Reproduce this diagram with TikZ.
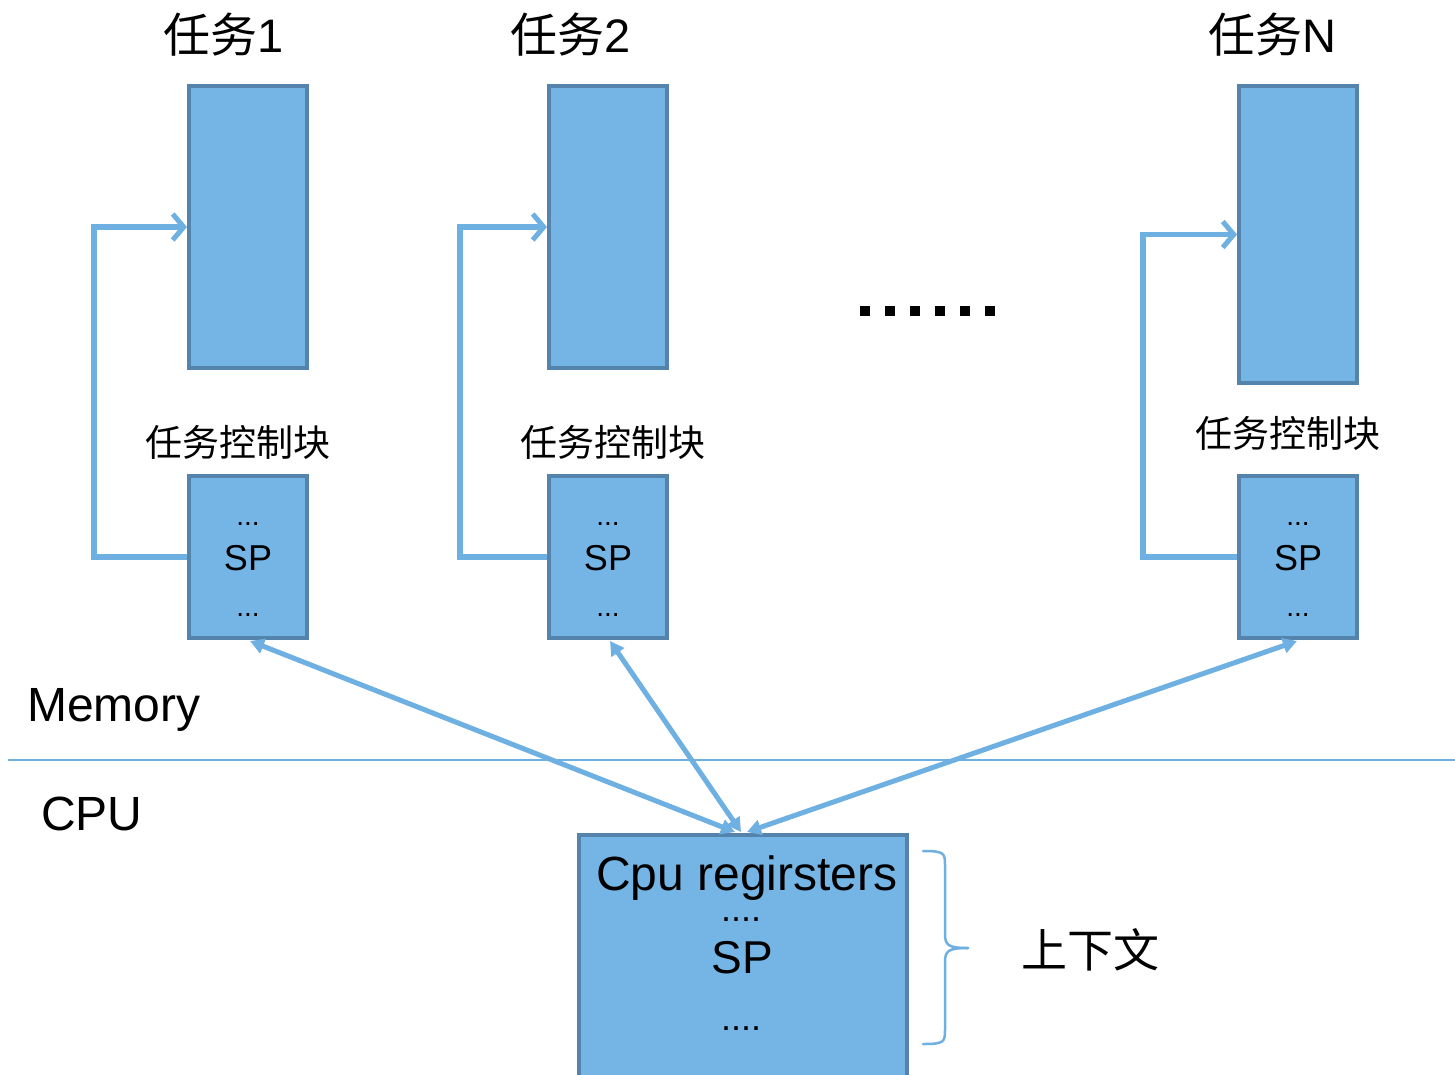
\documentclass[tikz,border=0pt]{standalone}
\usepackage{fontspec}
\setmainfont{Liberation Sans}
\newfontfamily\cjk{Noto Sans CJK SC}
\usetikzlibrary{arrows.meta,calc}

\definecolor{boxfill}{RGB}{117,181,229}
\definecolor{boxedge}{RGB}{84,132,172}
\definecolor{linkblue}{RGB}{111,176,226}

\tikzset{
  stackbox/.style={draw=boxedge, fill=boxfill, line width=4pt, minimum width=118pt, inner sep=0pt},
  tcbbox/.style={stackbox, minimum height=162pt},
  looplink/.style={draw=linkblue, line width=5.5pt, line join=miter,
    -{Straight Barb[length=11pt,width=26pt,line width=5pt]}},
  swaplink/.style={draw=linkblue, line width=5pt,
    {Triangle[length=14pt,width=15pt]}-{Triangle[length=14pt,width=15pt]}},
  title/.style={font=\cjk\fontsize{47}{47}\selectfont, inner sep=0pt},
  tcblabel/.style={font=\cjk\fontsize{37}{37}\selectfont, inner sep=0pt},
  sp/.style={font=\fontsize{36}{36}\selectfont, inner sep=0pt},
  dots/.style={font=\fontsize{28}{28}\selectfont, inner sep=0pt, anchor=base,
    text height=4pt, text depth=0pt},
  regdots/.style={font=\fontsize{36}{36}\selectfont, inner sep=0pt, anchor=base,
    text height=5pt, text depth=0pt},
  dotsq/.style={fill=black, minimum size=10pt, inner sep=0pt}
}

\begin{document}
\begin{tikzpicture}[x=1pt, y=-1pt]
\clip (0,0) rectangle (1455,1074);
\fill[white] (0,0) rectangle (1455,1074);

% task stacks
\node[stackbox, minimum height=282pt] (s1) at (248,227) {};
\node[stackbox, minimum height=282pt] (s2) at (608,227) {};
\node[stackbox, minimum height=297pt] (sn) at (1298,234.5) {};

% task titles
\node[title] (t1) at (224,35) {任务\fontspec{Liberation Sans}1};
\node[title] (t2) at (571,35) {任务\fontspec{Liberation Sans}2};
\node[title] (tn) at (1272,35) {任务\fontspec{Liberation Sans}N};

% task control blocks
\node[tcbbox] (c1) at (248,557) {};
\node[tcbbox] (c2) at (608,557) {};
\node[tcbbox] (cn) at (1298,557) {};

\node[tcblabel] (l1) at (238,442) {任务控制块};
\node[tcblabel] (l2) at (613,442) {任务控制块};
\node[tcblabel] (ln) at (1288,433) {任务控制块};

\foreach \c in {c1,c2,cn}{
  \node[dots] (\c-a) at ($(\c.center)+(0,-32)$) {...};
  \node[sp]   (\c-s) at ($(\c.center)+(0,1)$) {SP};
  \node[dots] (\c-b) at ($(\c.center)+(0,59)$) {...};
}

% stack pointer links
\draw[looplink] (c1.west) -- ++(-93,0) |- (s1.west);
\draw[looplink] (c2.west) -- ++(-87,0) |- (s2.west);
\draw[looplink] (cn.west) -- ++(-94,0) |- (sn.west);

% ellipsis between tasks
\foreach \i in {0,...,5}{
  \node[dotsq] (e\i) at (865+25*\i,311) {};
}

% memory / cpu divider
\node[font=\fontsize{48}{48}\selectfont, anchor=west, inner sep=0pt] (mem) at (27,710) {Memory};
\node[font=\fontsize{48}{48}\selectfont, anchor=west, inner sep=0pt] (cpulbl) at (41,814) {CPU};
\coordinate (divl) at (8,760);
\coordinate (divr) at (1455,760);
\draw[linkblue, line width=2pt] (divl) -- (divr);

% cpu registers
\node[stackbox, minimum width=328pt, minimum height=260pt] (cpu) at (743,965) {};
\node[font=\fontsize{48}{48}\selectfont, inner sep=0pt, anchor=base] (regs) at (747,890) {Cpu regirsters};
\node[regdots] (rd1) at (741,921) {....};
\node[font=\fontsize{46}{46}\selectfont, inner sep=0pt] (rsp) at (742,958) {SP};
\node[regdots] (rd2) at (741,1030) {....};

% context switch links
\draw[swaplink] ($(cpu.north)+(-8,-1)$) -- ($(c1.south)+(2,1)$);
\draw[swaplink] ($(cpu.north)+(-2,-1)$) -- ($(c2.south)+(2,1)$);
\draw[swaplink] ($(cpu.north)+(4,-1)$) -- ($(cn.south)+(-1,1)$);

% context brace
\coordinate (bt) at (923,851);
\coordinate (bb) at (923,1044);
\coordinate (bm) at (968,948);
\draw[linkblue, line width=2.5pt, line cap=round]
  (bt) .. controls (944,851) and (945,853) .. (945,865)
  -- (945,934) .. controls (945,945) and (948,948) .. (bm);
\draw[linkblue, line width=2.5pt, line cap=round]
  (bb) .. controls (944,1044) and (945,1042) .. (945,1030)
  -- (945,962) .. controls (945,951) and (948,948) .. (bm);
\node[font=\cjk\fontsize{46}{46}\selectfont, inner sep=0pt] (ctx) at (1090,950) {上下文};
\end{tikzpicture}
\end{document}
